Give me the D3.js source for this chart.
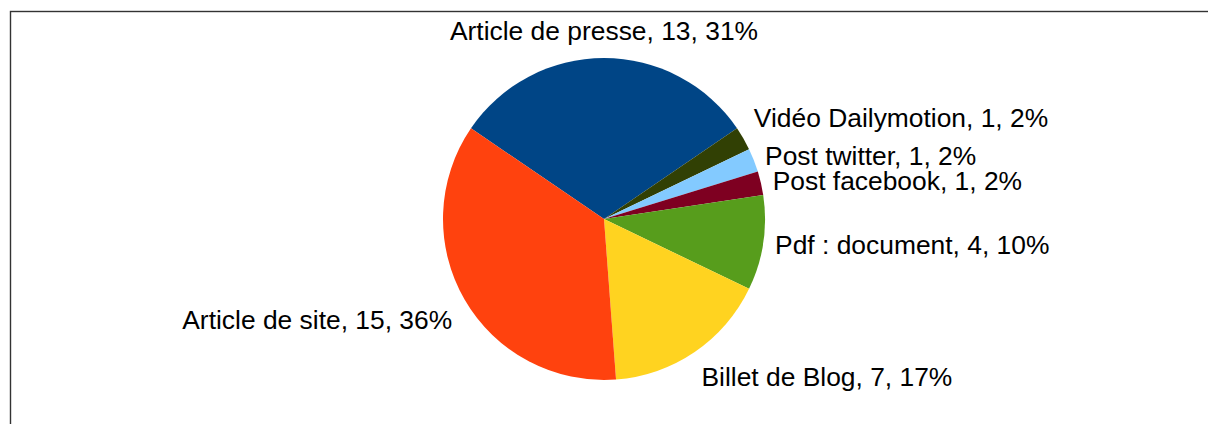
<!DOCTYPE html>
<html>
<head>
<meta charset="utf-8">
<script src="https://cdn.jsdelivr.net/npm/d3@7"></script>
<style>
  html, body { margin: 0; padding: 0; background: #fff; }
  svg { display: block; }
</style>
</head>
<body>
<svg id="chart" width="1208" height="424"></svg>
<script>
const categories = ["Article de presse", "Vidéo Dailymotion", "Post twitter", "Post facebook", "Pdf : document", "Billet de Blog", "Article de site"];
const values = [13, 1, 1, 1, 4, 7, 15];
const colors = ["#004586", "#314004", "#83caff", "#7e0021", "#579d1c", "#ffd320", "#ff420e"];

const W = 1208, H = 424;
const cx = 604, cy = 219, R = 161;
const gap = 12;
const fs = 26.4;
const ascent = 0.905 * fs, descent = 0.212 * fs;

const svg = d3.select("#chart");

// frame
svg.append("rect")
  .attr("x", 10.5).attr("y", 11.5)
  .attr("width", W + 20).attr("height", H + 20)
  .attr("fill", "none").attr("stroke", "#333").attr("stroke-width", 1.4);

const total = d3.sum(values);
const data = categories.map((c, i) => ({ name: c, value: values[i], color: colors[i] }));

const startA = -Math.PI * values[0] / total;
const pie = d3.pie().value(d => d.value).sort(null)
  .startAngle(startA).endAngle(startA + 2 * Math.PI);
const arcs = pie(data);
const arc = d3.arc().innerRadius(0).outerRadius(R);

const g = svg.append("g").attr("transform", `translate(${cx},${cy})`);
g.selectAll("path").data(arcs).enter().append("path")
  .attr("d", arc)
  .attr("fill", d => d.data.color);

// labels, LibreOffice-style alignment
const lg = svg.append("g")
  .attr("font-family", "'Liberation Sans', Arial, sans-serif")
  .attr("font-size", fs)
  .attr("fill", "#000");

arcs.forEach(a => {
  const mid = (a.startAngle + a.endAngle) / 2;
  const px = cx + (R + gap) * Math.sin(mid);
  const py = cy - (R + gap) * Math.cos(mid);
  let deg = 90 - mid * 180 / Math.PI;
  deg = ((deg % 360) + 360) % 360;
  let h, v;
  if (deg === 0) { h = "middle"; v = "center"; }
  else if (deg <= 22.5) { h = "start"; v = "center"; }
  else if (deg < 67.5) { h = "start"; v = "above"; }
  else if (deg < 112.5) { h = "middle"; v = "above"; }
  else if (deg <= 157.5) { h = "end"; v = "above"; }
  else if (deg <= 202.5) { h = "end"; v = "center"; }
  else if (deg < 247.5) { h = "end"; v = "below"; }
  else if (deg < 292.5) { h = "middle"; v = "below"; }
  else if (deg < 337.5) { h = "start"; v = "below"; }
  else { h = "start"; v = "center"; }
  let by;
  if (v === "above") by = py - descent;
  else if (v === "below") by = py + ascent;
  else by = py + (ascent - descent) / 2;
  const dx = h === "end" ? -2 : 0;
  const pct = Math.round(100 * a.data.value / total);
  lg.append("text")
    .attr("x", px + dx).attr("y", by)
    .attr("text-anchor", h)
    .text(`${a.data.name}, ${a.data.value}, ${pct}%`);
});
</script>
</body>
</html>
